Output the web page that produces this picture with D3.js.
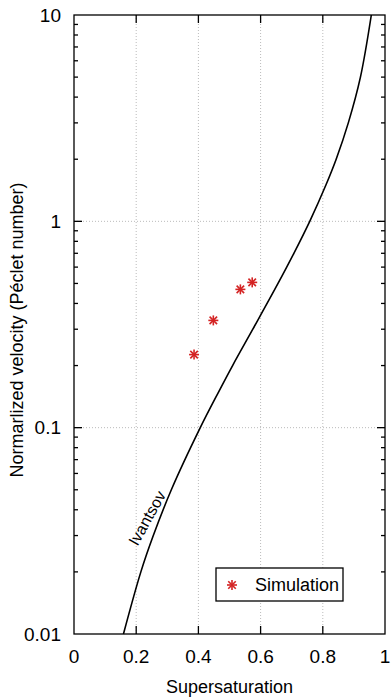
<!DOCTYPE html>
<html>
<head>
<meta charset="utf-8">
<script src="https://cdn.jsdelivr.net/npm/d3@7"></script>
<style>
  body { margin: 0; background: #fff; }
  svg { display: block; font-family: "Liberation Sans", Arial, sans-serif; }
  .tick-label { font-size: 19px; fill: #000; }
  .axis-title { font-size: 18px; fill: #000; }
</style>
</head>
<body>
<svg id="chart" width="391" height="699"></svg>
<script>
// Ivantsov curve (supersaturation, Peclet number)
const ivantsovX = [0.159, 0.215, 0.255, 0.313, 0.406, 0.466, 0.510, 0.575, 0.656, 0.707, 0.758, 0.810, 0.843, 0.882, 0.921, 0.956];
const ivantsovY = [0.01, 0.02, 0.03, 0.05, 0.1, 0.15, 0.2, 0.3, 0.5, 0.7, 1, 1.5, 2, 3, 5, 10];

// Simulation points
const simX = [0.386, 0.448, 0.535, 0.573];
const simY = [0.226, 0.331, 0.468, 0.506];

// Ticks
const xTicks = [0, 0.2, 0.4, 0.6, 0.8, 1];
const xTickLabels = ["0", "0.2", "0.4", "0.6", "0.8", "1"];
const yTicks = [0.01, 0.1, 1, 10];
const yTickLabels = ["0.01", "0.1", "1", "10"];

const margin = { top: 15, right: 6, bottom: 65, left: 74 };
const W = 391, H = 699;
const width = W - margin.left - margin.right;
const height = H - margin.top - margin.bottom;

const svg = d3.select("#chart");
const g = svg.append("g").attr("transform", `translate(${margin.left},${margin.top})`);

const x = d3.scaleLinear().domain([0, 1]).range([0, width]);
const y = d3.scaleLog().domain([0.01, 10]).range([height, 0]);

// Grid lines (dotted)
const grid = g.append("g").attr("stroke", "#bbb").attr("stroke-width", 1).attr("stroke-dasharray", "1,2");
xTicks.slice(1, -1).forEach(v => {
  grid.append("line").attr("x1", x(v)).attr("x2", x(v)).attr("y1", 0).attr("y2", height);
});
yTicks.slice(1, -1).forEach(v => {
  grid.append("line").attr("x1", 0).attr("x2", width).attr("y1", y(v)).attr("y2", y(v));
});

// Ticks drawn inward on all four sides
const ticks = g.append("g").attr("stroke", "#000").attr("stroke-width", 1.3);
xTicks.slice(1, -1).forEach(v => {
  ticks.append("line").attr("x1", x(v)).attr("x2", x(v)).attr("y1", height).attr("y2", height - 8);
  ticks.append("line").attr("x1", x(v)).attr("x2", x(v)).attr("y1", 0).attr("y2", 8);
});
const minorY = [];
[0.01, 0.1, 1].forEach(d => { for (let k = 2; k <= 9; k++) minorY.push(d * k); });
minorY.forEach(v => {
  ticks.append("line").attr("x1", 0).attr("x2", 4).attr("y1", y(v)).attr("y2", y(v));
  ticks.append("line").attr("x1", width).attr("x2", width - 4).attr("y1", y(v)).attr("y2", y(v));
});
yTicks.slice(1, -1).forEach(v => {
  ticks.append("line").attr("x1", 0).attr("x2", 8).attr("y1", y(v)).attr("y2", y(v));
  ticks.append("line").attr("x1", width).attr("x2", width - 8).attr("y1", y(v)).attr("y2", y(v));
});

// Tick labels
xTicks.forEach((v, i) => {
  g.append("text").attr("class", "tick-label")
    .attr("x", x(v)).attr("y", height + 29)
    .attr("text-anchor", "middle")
    .text(xTickLabels[i]);
});
yTicks.forEach((v, i) => {
  g.append("text").attr("class", "tick-label")
    .attr("x", -13).attr("y", y(v)).attr("dy", "0.35em")
    .attr("text-anchor", "end")
    .text(yTickLabels[i]);
});

// Ivantsov curve
const curveData = ivantsovX.map((v, i) => [v, ivantsovY[i]]);
const line = d3.line()
  .x(d => x(d[0]))
  .y(d => y(d[1]))
  .curve(d3.curveCatmullRom);
g.append("path")
  .datum(curveData)
  .attr("fill", "none")
  .attr("stroke", "#000")
  .attr("stroke-width", 1.6)
  .attr("d", line);

g.append("text")
  .attr("transform", `translate(${147 - margin.left},${518 - margin.top}) rotate(-61)`)
  .attr("text-anchor", "middle")
  .attr("dy", "0.35em")
  .attr("font-size", 16)
  .text("Ivantsov");

// Asterisk marker
function asterisk(sel, cx, cy, r) {
  const a = sel.append("g").attr("transform", `translate(${cx},${cy})`)
    .attr("stroke", "#d42424").attr("stroke-width", 1.6);
  a.append("line").attr("x1", -r).attr("x2", r).attr("y1", 0).attr("y2", 0);
  a.append("line").attr("x1", 0).attr("x2", 0).attr("y1", -r).attr("y2", r);
  const d = r * 0.75;
  a.append("line").attr("x1", -d).attr("x2", d).attr("y1", -d).attr("y2", d);
  a.append("line").attr("x1", -d).attr("x2", d).attr("y1", d).attr("y2", -d);
}
simX.forEach((v, i) => asterisk(g, x(v), y(simY[i]), 5));

// Frame
g.append("rect")
  .attr("width", width).attr("height", height)
  .attr("fill", "none").attr("stroke", "#000").attr("stroke-width", 1.3);

// Legend
const legend = svg.append("g");
legend.append("rect")
  .attr("x", 216).attr("y", 568).attr("width", 127).attr("height", 33)
  .attr("fill", "#fff").attr("stroke", "#000").attr("stroke-width", 1.3);
asterisk(legend, 232, 585, 5);
legend.append("text").attr("class", "axis-title")
  .attr("x", 255).attr("y", 585).attr("dy", "0.35em")
  .text("Simulation");

// Axis titles
svg.append("text").attr("class", "axis-title")
  .attr("x", margin.left + width / 2).attr("y", 693)
  .attr("text-anchor", "middle")
  .text("Supersaturation");

svg.append("text").attr("class", "axis-title")
  .attr("transform", `translate(23,330) rotate(-90)`)
  .attr("text-anchor", "middle")
  .text("Normarlized velocity (Péclet number)");
</script>
</body>
</html>
